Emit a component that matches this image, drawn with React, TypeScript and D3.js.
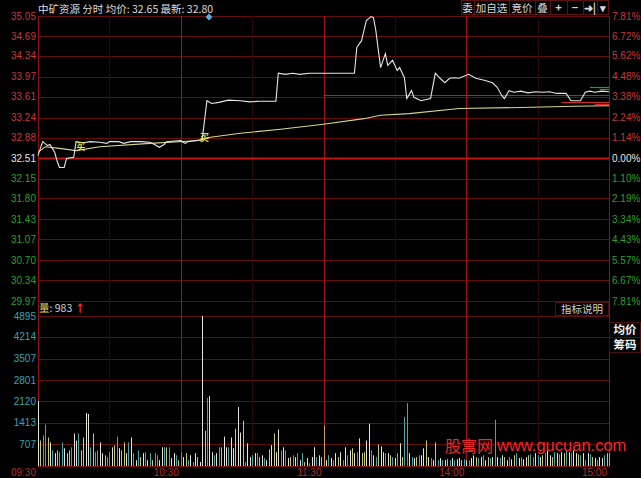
import React from "react";
import * as d3 from "d3";

// ---------- data ----------
const priceTicks = [35.05, 34.69, 34.34, 33.97, 33.61, 33.24, 32.88, 32.51, 32.15, 31.8, 31.43, 31.07, 30.7, 30.34, 29.97];
const priceTickLabels = ["35.05", "34.69", "34.34", "33.97", "33.61", "33.24", "32.88", "32.51", "32.15", "31.80", "31.43", "31.07", "30.70", "30.34", "29.97"];
const pctTickLabels = ["7.81%", "6.72%", "5.62%", "4.48%", "3.38%", "2.24%", "1.14%", "0.00%", "1.10%", "2.19%", "3.34%", "4.43%", "5.57%", "6.67%", "7.81%"];
const preClose = 32.51;
const volTicks = [4895, 4214, 3507, 2801, 2120, 1413, 707];
const timeTicks = [0, 60, 120, 180, 240];
const timeLabels = ["09:30", "10:30", "11:30", "14:00", "15:00"];
const halfHourTicks = [30, 90, 150, 210];

// price line: [minute, price]
const pricePts: [number, number][] = [
  [0, 32.56], [1, 32.69], [2, 32.81], [4, 32.74], [5, 32.76], [6, 32.69], [7, 32.62], [8, 32.47], [9, 32.35], [11, 32.35],
  [12, 32.51], [15, 32.53], [16, 32.81], [19, 32.79], [22, 32.81], [26, 32.8], [29, 32.78], [30, 32.81], [34, 32.81], [36, 32.78],
  [39, 32.81], [43, 32.81], [47, 32.8], [49, 32.76], [51, 32.71], [53, 32.76], [54, 32.81], [60, 32.83], [61, 32.8], [62, 32.78],
  [63, 32.81], [69, 32.85], [70, 33.19], [71, 33.54], [73, 33.49], [76, 33.51], [80, 33.55], [85, 33.54], [89, 33.52], [93, 33.53],
  [100, 33.53], [101, 34.03], [104, 34.01], [107, 34.03], [110, 34.01], [114, 34.03], [120, 34.03], [127, 34.03], [133, 34.03], [134, 34.49],
  [136, 34.61], [138, 34.97], [140, 35.04], [141, 35.02], [142, 34.79], [144, 34.13], [146, 34.38], [147, 34.17], [149, 34.26], [151, 34.08],
  [152, 34.13], [154, 33.95], [155, 33.58], [157, 33.72], [158, 33.6], [161, 33.54], [165, 33.58], [167, 34.03], [169, 33.94], [171, 33.86],
  [173, 33.94], [175, 33.95], [177, 33.94], [181, 34.01], [184, 33.94], [188, 33.9], [191, 33.86], [193, 33.78], [195, 33.63], [196, 33.58],
  [198, 33.72], [200, 33.69], [203, 33.71], [206, 33.68], [209, 33.7], [212, 33.69], [215, 33.7], [218, 33.67], [222, 33.67], [224, 33.54],
  [228, 33.54], [230, 33.69], [232, 33.71], [234, 33.69], [237, 33.71], [240, 33.7],
];

// average price line: [minute, price]
const avgPts: [number, number][] = [
  [0, 32.62], [3, 32.72], [9, 32.69], [16, 32.65], [26, 32.72], [47, 32.78], [68, 32.83], [71, 32.88], [85, 32.96],
  [102, 33.03], [120, 33.12], [137, 33.22], [144, 33.28], [156, 33.31], [177, 33.4], [203, 33.42], [225, 33.44], [240, 33.45],
];

// volume per minute (0..240)
const volumes = [
  2120, 830, 1000, 1350, 930, 770, 510, 420, 510, 450, 770, 580, 420, 510, 610, 1060, 830, 1060, 510, 930,
  1730, 1700, 610, 1060, 450, 510, 770, 420, 350, 290, 450, 610, 670, 960, 580, 510, 770, 420, 770, 930,
  420, 190, 510, 290, 420, 450, 190, 420, 190, 420, 350, 190, 610, 610, 610, 610, 260, 420, 350, 190,
  450, 290, 420, 190, 350, 130, 420, 290, 130, 4895, 1150, 2220, 2280, 450, 350, 420, 610, 610, 960, 610,
  610, 930, 580, 1220, 1925, 1090, 1475, 130, 740, 290, 350, 420, 420, 290, 350, 260, 190, 540, 680, 1060,
  450, 1190, 510, 610, 510, 260, 290, 350, 290, 420, 190, 420, 130, 260, 100, 290, 610, 290, 350, 290,
  1320, 190, 350, 260, 190, 420, 290, 450, 190, 610, 350, 510, 580, 420, 450, 900, 420, 450, 830, 1380,
  510, 350, 290, 700, 640, 450, 420, 420, 350, 290, 260, 420, 740, 290, 1600, 2050, 420, 290, 260, 290,
  350, 350, 580, 830, 290, 260, 190, 770, 190, 260, 190, 190, 220, 190, 260, 190, 220, 260, 190, 220,
  190, 190, 260, 350, 290, 260, 290, 350, 190, 290, 260, 290, 1510, 290, 260, 350, 290, 190, 290, 220,
  350, 420, 260, 290, 220, 290, 350, 380, 290, 420, 350, 290, 350, 420, 510, 350, 290, 450, 420, 380,
  450, 420, 510, 450, 420, 510, 420, 380, 350, 420, 190, 420, 380, 290, 260, 190, 290, 260, 350, 420,
  420,
];
// bar tone per minute: w white, y yellow, t teal, o orange, p pink
const volTone =
  "wyttywtwyt" + "twyytwwtyy" + "wwtyttwwyt" + "twytwyywtw" + "twtywtwtyt" + "twwtytwwty" + "twytwtwyww" + "ytwwtwtyww" +
  "twwywwytww" + "twtywtwywy" + "wwtwtwytwt" + "wtywtwwtwy" + "owtwtwywtw" + "twywtwyyww" + "twtywwtwyt" + "wtwyttwtwy" +
  "twwywtwytw" + "twytwtwwyt" + "wtwwytwtwy" + "twtwtwywtw" + "ytwtwwyttw" + "twytwwytwt" + "wytwtwwytw" + "twtywtwwty" + "p";

const refLevel = 33.64;
const sideLevels = [
  { price: 33.78, from: 232, color: "#2f9a2f" },
  { price: 33.75, from: 236, color: "#2f9a2f" },
  { price: 33.52, from: 220, color: "#d02a2a" },
  { price: 33.48, from: 234, color: "#d02a2a" },
];
const markers = [
  { m: 18, price: 32.74 },
  { m: 70, price: 32.9 },
];

// ---------- styles ----------
const toneColor: Record<string, string> = {
  w: "#e4e4d8",
  y: "#c9c97e",
  t: "#4aa6a6",
  o: "#d49a5a",
  p: "#e08ca0",
};
const NUM = "'Liberation Sans', Arial, sans-serif";
const CJK = "'Noto Sans CJK SC', 'Liberation Sans', sans-serif";

export default function App() {
  const W = 641, H = 478;
  const L = 38, R = 609;
  const x = d3.scaleLinear().domain([0, 240]).range([L, R]);
  const yP = d3.scaleLinear().domain([29.97, 35.05]).range([301, 16]);
  const yV = d3.scaleLinear().domain([0, 4895]).range([466, 316]);
  const crisp = (v: number) => Math.round(v) + 0.5;

  const priceLine = d3.line<[number, number]>().x((d) => x(d[0])).y((d) => yP(d[1]));
  const gridColor = "#640c0c";
  const mainV = "#a01616";

  const buttons = [
    { t: "委", a: 461, b: 474 },
    { t: "加自选", a: 474, b: 509 },
    { t: "竞价", a: 509, b: 535 },
    { t: "叠", a: 535, b: 550 },
    { t: "+", a: 550, b: 567 },
    { t: "−", a: 567, b: 583 },
    { t: "➜|", a: 583, b: 597 },
    { t: "▾", a: 597, b: 608 },
  ];

  return (
    <svg width={W} height={H} style={{ position: "fixed", left: 0, top: 0, background: "#000" }}>
      <rect x={0} y={0} width={W} height={H} fill="#000" />

      {/* price grid */}
      {priceTicks.map((p, i) =>
        p === preClose ? null : (
          <line key={"pg" + i} x1={L} x2={R} y1={crisp(yP(p))} y2={crisp(yP(p))} stroke={gridColor} strokeWidth={1} />
        )
      )}
      {/* volume grid */}
      {volTicks.map((v, i) => (
        <line key={"vg" + i} x1={L} x2={R} y1={crisp(yV(v))} y2={crisp(yV(v))} stroke={gridColor} strokeWidth={1} />
      ))}
      <line x1={L} x2={R} y1={crisp(yV(0))} y2={crisp(yV(0))} stroke="#7a1010" />
      {/* half hour lines */}
      {halfHourTicks.map((m) => (
        <line key={"hh" + m} x1={crisp(x(m))} x2={crisp(x(m))} y1={16} y2={466} stroke="#2e0707" />
      ))}
      {/* hour lines */}
      {timeTicks.map((m) => (
        <line key={"hl" + m} x1={crisp(x(m))} x2={crisp(x(m))} y1={16} y2={466} stroke={m === 0 || m === 240 ? "#8a1212" : mainV} />
      ))}
      {/* pre close line */}
      <line x1={L} x2={R} y1={yP(preClose)} y2={yP(preClose)} stroke="#c01212" strokeWidth={2} />

      {/* reference level */}
      <line x1={x(120)} x2={R} y1={crisp(yP(refLevel))} y2={crisp(yP(refLevel))} stroke="#55551e" />
      {sideLevels.map((s, i) => (
        <line key={"sl" + i} x1={x(s.from)} x2={R} y1={crisp(yP(s.price))} y2={crisp(yP(s.price))} stroke={s.color} strokeWidth={1.2} />
      ))}

      {/* average and price lines */}
      <path d={priceLine(avgPts) || ""} fill="none" stroke="#d6d68a" strokeWidth={1.1} />
      <path d={priceLine(pricePts) || ""} fill="none" stroke="#e6e6e6" strokeWidth={1.1} />
      {markers.map((mk, i) => (
        <text key={"mk" + i} x={x(mk.m)} y={yP(mk.price) + 4} fontSize={9} fill="#e8e040" fontFamily={CJK} textAnchor="middle" fontWeight="bold">
          买
        </text>
      ))}

      {/* volume bars */}
      {volumes.map((v, i) => (
        <rect key={"vb" + i} x={Math.round(x(i))} y={yV(v)} width={1} height={yV(0) - yV(v)} fill={toneColor[volTone[i]] || "#e4e4d8"} />
      ))}

      {/* left price labels */}
      {priceTicks.map((p, i) => (
        <text key={"pl" + i} x={36} y={yP(p) + 3.5} fontSize={10} fontFamily={NUM} textAnchor="end"
          fill={p > preClose ? "#c83838" : p === preClose ? "#e8e8e8" : "#2aa02a"}>
          {priceTickLabels[i]}
        </text>
      ))}
      {/* right pct labels */}
      {priceTicks.map((p, i) => (
        <text key={"rl" + i} x={612} y={yP(p) + 3.5} fontSize={10} fontFamily={NUM} textAnchor="start"
          fill={p > preClose ? "#c83838" : p === preClose ? "#e8e8e8" : "#2aa02a"}>
          {pctTickLabels[i]}
        </text>
      ))}
      {/* volume labels */}
      {volTicks.map((v, i) => (
        <text key={"vl" + i} x={36} y={yV(v) + 3.5} fontSize={10} fontFamily={NUM} textAnchor="end" fill="#3aa0b0">
          {v}
        </text>
      ))}
      {/* time labels */}
      {timeTicks.map((m, i) => (
        <text key={"tl" + i} x={x(m) - 2} y={476} fontSize={10} fontFamily={NUM} textAnchor="end" fill="#b02c2c">
          {timeLabels[i]}
        </text>
      ))}

      {/* header */}
      <text x={38} y={12.5} fontSize={10.5} fontFamily={CJK} fill="#dcdcdc">
        中矿资源 分时 均价: 32.65 最新: 32.80
      </text>
      <path d="M209,13.5 L212.5,17 L209,20.5 L205.5,17 Z" fill="#58aee0" />
      {buttons.map((b, i) => (
        <g key={"bt" + i}>
          <rect x={b.a + 0.5} y={0.5} width={b.b - b.a} height={14} fill="#000" stroke="#5a1212" />
          <text x={(b.a + b.b) / 2} y={12} fontSize={i >= 4 ? 11 : 10.5} fontFamily={CJK} textAnchor="middle" fill="#d8d8d8" fontWeight={i >= 4 ? "bold" : "normal"}>
            {b.t}
          </text>
        </g>
      ))}

      {/* volume header */}
      <text x={39} y={312} fontSize={10.5} fontFamily={CJK}>
        <tspan fill="#e0d060">量</tspan>
        <tspan fill="#d0d0d0">: 983</tspan>
        <tspan fill="#ff3030" fontWeight="bold"> ↑</tspan>
      </text>
      <rect x={555.5} y={302.5} width={53} height={13} fill="#000" stroke="#4a1010" />
      <text x={582} y={313} fontSize={10.5} fontFamily={CJK} textAnchor="middle" fill="#d0d0d0">指标说明</text>

      <rect x={609.5} y={322.5} width={31} height={15} fill="#000" stroke="#4a1010" />
      <text x={625} y={334} fontSize={11.5} fontFamily={CJK} textAnchor="middle" fill="#f0f0f0" fontWeight="bold">均价</text>
      <rect x={609.5} y={337.5} width={31} height={15} fill="#000" stroke="#4a1010" />
      <text x={625} y={349} fontSize={11.5} fontFamily={CJK} textAnchor="middle" fill="#f0f0f0" fontWeight="bold">筹码</text>

      {/* watermark */}
      <text x={445} y={452} fontSize={16} fontFamily={CJK} fill="#f02828">股寓网</text>
      <text x={497} y={451} fontSize={16.5} fontFamily={NUM} fill="#f02828">www.gucuan.com</text>
    </svg>
  );
}
